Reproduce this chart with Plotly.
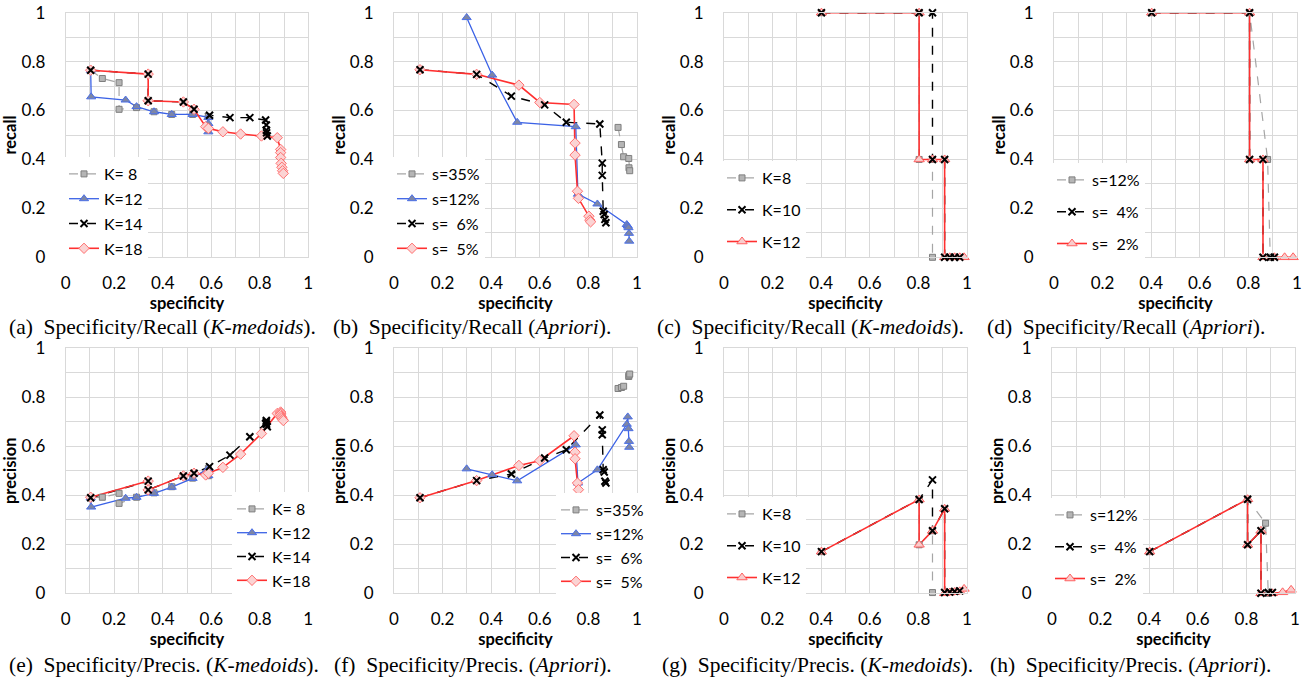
import plotly.graph_objects as go

W, H = 1312, 677

# ---------------- data ----------------
# (a)/(e) K-medoids sweep
km_k8_spec = [0.103, 0.151, 0.220, 0.220, 0.292, 0.364, 0.437, 0.523, 0.588, 0.588]
km_k8_recall = [0.765, 0.731, 0.714, 0.605, 0.612, 0.595, 0.584, 0.584, 0.575, 0.530]
km_k8_prec = [0.390, 0.392, 0.408, 0.367, 0.392, 0.410, 0.435, 0.470, 0.510, 0.480]

km_k12_spec = [0.103, 0.105, 0.247, 0.292, 0.364, 0.437, 0.523, 0.588, 0.588, 0.588]
km_k12_recall = [0.765, 0.656, 0.643, 0.616, 0.595, 0.584, 0.584, 0.572, 0.547, 0.513]
km_k12_prec = [0.390, 0.352, 0.388, 0.392, 0.408, 0.433, 0.469, 0.510, 0.495, 0.480]

km_k14_spec = [0.103, 0.340, 0.340, 0.485, 0.529, 0.593, 0.677, 0.759, 0.824, 0.827, 0.827, 0.828, 0.831]
km_k14_recall = [0.765, 0.749, 0.640, 0.635, 0.605, 0.581, 0.571, 0.571, 0.561, 0.541, 0.520, 0.509, 0.496]
km_k14_prec = [0.390, 0.458, 0.422, 0.479, 0.490, 0.517, 0.564, 0.639, 0.693, 0.700, 0.705, 0.690, 0.680]

km_k18_spec = [0.103, 0.340, 0.340, 0.485, 0.529, 0.577, 0.588, 0.648, 0.721, 0.807, 0.872,
               0.886, 0.886, 0.886, 0.888, 0.891, 0.894, 0.897]
km_k18_recall = [0.765, 0.749, 0.640, 0.635, 0.605, 0.534, 0.527, 0.513, 0.504, 0.496, 0.489,
                 0.441, 0.428, 0.408, 0.384, 0.368, 0.354, 0.343]
km_k18_prec = [0.392, 0.458, 0.422, 0.479, 0.490, 0.483, 0.490, 0.514, 0.568, 0.652, 0.734,
               0.740, 0.735, 0.729, 0.722, 0.716, 0.710, 0.705]

# (b)/(f) Apriori sweep
ap_s35_spec = [0.922, 0.936, 0.945, 0.966, 0.967, 0.970]
ap_s35_recall = [0.531, 0.461, 0.411, 0.404, 0.366, 0.354]
ap_s35_prec = [0.836, 0.840, 0.845, 0.885, 0.890, 0.895]

ap_s12_spec = [0.299, 0.404, 0.507, 0.748, 0.757, 0.837, 0.958, 0.962, 0.965, 0.967, 0.968]
ap_s12_recall = [0.980, 0.745, 0.552, 0.534, 0.258, 0.218, 0.134, 0.128, 0.121, 0.098, 0.066]
ap_s12_prec = [0.508, 0.484, 0.459, 0.606, 0.450, 0.504, 0.690, 0.720, 0.672, 0.620, 0.596]

ap_s6_spec = [0.107, 0.340, 0.483, 0.620, 0.709, 0.847, 0.857, 0.857, 0.861, 0.865, 0.868, 0.872]
ap_s6_recall = [0.767, 0.748, 0.659, 0.623, 0.552, 0.545, 0.385, 0.335, 0.188, 0.175, 0.155, 0.141]
ap_s6_prec = [0.390, 0.460, 0.487, 0.552, 0.586, 0.728, 0.667, 0.647, 0.504, 0.495, 0.457, 0.450]

ap_s5_spec = [0.107, 0.340, 0.514, 0.600, 0.741, 0.745, 0.745, 0.755, 0.759, 0.802, 0.806, 0.809]
ap_s5_recall = [0.767, 0.748, 0.704, 0.633, 0.625, 0.467, 0.418, 0.270, 0.241, 0.168, 0.152, 0.145]
ap_s5_prec = [0.390, 0.460, 0.522, 0.541, 0.643, 0.576, 0.549, 0.450, 0.423, None, None, None]

# (c)/(g) K-medoids
kc_k8_spec = [0.401, 0.803, 0.803, 0.858, 0.858]
kc_k8_recall = [1.0, 1.0, 0.4, 0.4, 0.0]
kc_k8_prec = [0.170, 0.383, 0.198, 0.255, 0.003]

kc_k10_spec = [0.401, 0.803, 0.858, 0.858, 0.908, 0.908, 0.929, 0.949, 0.970]
kc_k10_recall = [1.0, 1.0, 1.0, 0.4, 0.4, 0.0, 0.0, 0.0, 0.0]
kc_k10_prec = [0.170, 0.383, 0.463, 0.255, 0.345, 0.003, 0.005, 0.008, 0.010]

kc_k12_spec = [0.401, 0.803, 0.803, 0.858, 0.908, 0.908, 0.929, 0.949, 0.970, 0.988]
kc_k12_recall = [1.0, 1.0, 0.4, 0.4, 0.4, 0.0, 0.0, 0.0, 0.0, 0.0]
kc_k12_prec = [0.170, 0.383, 0.198, 0.255, 0.345, 0.000, 0.003, 0.005, 0.008, 0.018]

# (d)/(h) Apriori
ad_s12_spec = [0.402, 0.805, 0.879, 0.890]
ad_s12_recall = [1.0, 1.0, 0.4, 0.0]
ad_s12_prec = [0.170, 0.384, 0.286, 0.000]

ad_s4_spec = [0.402, 0.805, 0.805, 0.860, 0.860, 0.890, 0.907]
ad_s4_recall = [1.0, 1.0, 0.4, 0.4, 0.0, 0.0, 0.0]
ad_s4_prec = [0.170, 0.384, 0.198, 0.255, 0.000, 0.003, 0.003]

ad_s2_spec = [0.402, 0.805, 0.805, 0.860, 0.860, 0.907, 0.949, 0.984]
ad_s2_recall = [1.0, 1.0, 0.4, 0.4, 0.0, 0.0, 0.0, 0.0]
ad_s2_prec = [0.170, 0.384, 0.198, 0.255, 0.000, 0.000, 0.004, 0.014]

# labels
km_names_a = ["K= 8", "K=12", "K=14", "K=18"]
ap_names_b = ["s=35%", "s=12%", "s=  6%", "s=  5%"]
km_names_c = ["K=8", "K=10", "K=12"]
ap_names_d = ["s=12%", "s=  4%", "s=  2%"]
captions = [
    "(a)  Specificity/Recall (<i>K-medoids</i>).",
    "(b)  Specificity/Recall (<i>Apriori</i>).",
    "(c)  Specificity/Recall (<i>K-medoids</i>).",
    "(d)  Specificity/Recall (<i>Apriori</i>).",
    "(e)  Specificity/Precis. (<i>K-medoids</i>).",
    "(f)  Specificity/Precis. (<i>Apriori</i>).",
    "(g)  Specificity/Precis. (<i>K-medoids</i>).",
    "(h)  Specificity/Precis. (<i>Apriori</i>).",
]

# ---------------- styles ----------------
FONT = "Lato, 'Open Sans', sans-serif"
STY = {
    "gray": dict(line=dict(color="#a6a6a6", width=1.2, dash="dash"),
                 marker=dict(symbol="square", size=6, color="#b5b5b5",
                             line=dict(color="#7f7f7f", width=1))),
    "blue": dict(line=dict(color="#3b62e6", width=1.3),
                 marker=dict(symbol="triangle-up", size=8, color="#7d86a6",
                             line=dict(color="#4a6fe8", width=1))),
    "black": dict(line=dict(color="#000000", width=1.4, dash="dash"),
                  marker=dict(symbol="x-thin", size=7, color="#000000",
                              line=dict(color="#000000", width=2))),
    "red_d": dict(line=dict(color="#ff3030", width=1.6),
                  marker=dict(symbol="diamond", size=8, color="#fbd3d3",
                              line=dict(color="#ff7070", width=1))),
    "red_t": dict(line=dict(color="#ff3030", width=1.6),
                  marker=dict(symbol="triangle-up", size=9, color="#f9cccc",
                              line=dict(color="#ff6060", width=1))),
}

# panel definitions: plot-area pixel boxes (left, right, top, bottom)
panels = [
    dict(box=(65.7, 308.3, 12.7, 257.3), ytitle="recall", leg=(64, 157), gap=1,
         series=[("gray", km_names_a[0], km_k8_spec, km_k8_recall),
                 ("blue", km_names_a[1], km_k12_spec, km_k12_recall),
                 ("black", km_names_a[2], km_k14_spec, km_k14_recall),
                 ("red_d", km_names_a[3], km_k18_spec, km_k18_recall)],
         cap=(7, 327)),
    dict(box=(394, 637, 12.7, 257.3), ytitle="recall", leg=(392, 157), gap=1,
         series=[("gray", ap_names_b[0], ap_s35_spec, ap_s35_recall),
                 ("blue", ap_names_b[1], ap_s12_spec, ap_s12_recall),
                 ("black", ap_names_b[2], ap_s6_spec, ap_s6_recall),
                 ("red_d", ap_names_b[3], ap_s5_spec, ap_s5_recall)],
         cap=(331, 327)),
    dict(box=(724, 967, 12.7, 257.3), ytitle="recall", leg=(722, 161), gap=8,
         series=[("gray", km_names_c[0], kc_k8_spec, kc_k8_recall),
                 ("black", km_names_c[1], kc_k10_spec, kc_k10_recall),
                 ("red_t", km_names_c[2], kc_k12_spec, kc_k12_recall)],
         cap=(655, 327)),
    dict(box=(1054, 1297, 12.7, 257.3), ytitle="recall", leg=(1052, 163), gap=8,
         series=[("gray", ap_names_d[0], ad_s12_spec, ad_s12_recall),
                 ("black", ap_names_d[1], ad_s4_spec, ad_s4_recall),
                 ("red_t", ap_names_d[2], ad_s2_spec, ad_s2_recall)],
         cap=(985, 327)),
    dict(box=(65.7, 308.3, 348.3, 593.3), ytitle="precision", leg=(232, 492), gap=0,
         series=[("gray", km_names_a[0], km_k8_spec, km_k8_prec),
                 ("blue", km_names_a[1], km_k12_spec, km_k12_prec),
                 ("black", km_names_a[2], km_k14_spec, km_k14_prec),
                 ("red_d", km_names_a[3], km_k18_spec, km_k18_prec)],
         cap=(7, 665)),
    dict(box=(394, 637, 348.3, 593.3), ytitle="precision", leg=(556, 493), gap=0,
         series=[("gray", ap_names_b[0], ap_s35_spec, ap_s35_prec),
                 ("blue", ap_names_b[1], ap_s12_spec, ap_s12_prec),
                 ("black", ap_names_b[2], ap_s6_spec, ap_s6_prec),
                 ("red_d", ap_names_b[3], ap_s5_spec, ap_s5_prec)],
         cap=(332, 665)),
    dict(box=(724, 967, 348.3, 593.3), ytitle="precision", leg=(722, 497), gap=8,
         series=[("gray", km_names_c[0], kc_k8_spec, kc_k8_prec),
                 ("black", km_names_c[1], kc_k10_spec, kc_k10_prec),
                 ("red_t", km_names_c[2], kc_k12_spec, kc_k12_prec)],
         cap=(660, 665)),
    dict(box=(1052, 1295, 348.3, 593.3), ytitle="precision", leg=(1050, 498), gap=8,
         series=[("gray", ap_names_d[0], ad_s12_spec, ad_s12_prec),
                 ("black", ap_names_d[1], ad_s4_spec, ad_s4_prec),
                 ("red_t", ap_names_d[2], ad_s2_spec, ad_s2_prec)],
         cap=(988, 665)),
]

fig = go.Figure()
layout = dict(width=W, height=H, margin=dict(l=0, r=0, t=0, b=0, autoexpand=False),
              paper_bgcolor="white", plot_bgcolor="white",
              font=dict(family=FONT, color="black"), annotations=[])

legend_traces = []
for i, p in enumerate(panels, start=1):
    xa = "x" if i == 1 else f"x{i}"
    ya = "y" if i == 1 else f"y{i}"
    legname = "legend" if i == 1 else f"legend{i}"
    l, r, t, b = p["box"]
    axis_common = dict(range=[0, 1], dtick=0.2, tick0=0, showgrid=True, automargin=False,
                       gridcolor="#d9d9d9", gridwidth=1, zeroline=False,
                       showline=True, linecolor="#d9d9d9", mirror=True,
                       ticks="outside", tickcolor="rgba(0,0,0,0)",
                       tickfont=dict(size=17, family=FONT, color="black"),
                       minor=dict(dtick=0.1, showgrid=True, gridcolor="#d9d9d9", gridwidth=1),
                       fixedrange=True)
    layout["xaxis" if i == 1 else f"xaxis{i}"] = dict(
        axis_common, domain=[l / W, r / W], anchor=ya, ticklen=10,
        title=dict(text="<b>specificity</b>", font=dict(size=16.5, family=FONT), standoff=0))
    layout["yaxis" if i == 1 else f"yaxis{i}"] = dict(
        axis_common, domain=[1 - b / H, 1 - t / H], anchor=xa, ticklen=16,
        title=dict(text=f"<b>{p['ytitle']}</b>", font=dict(size=16.5, family=FONT), standoff=0))
    lx, ly = p["leg"]
    layout[legname] = dict(x=lx / W, y=1 - ly / H, xanchor="left", yanchor="top",
                           bgcolor="white", borderwidth=0, itemwidth=30,
                           traceorder="grouped", tracegroupgap=p["gap"],
                           font=dict(size=16, family=FONT, color="black"),
                           itemclick=False, itemdoubleclick=False)
    # lines first
    for key, name, xs, ys in p["series"]:
        s = STY[key]
        fig.add_trace(go.Scatter(x=xs, y=ys, mode="lines", line=s["line"], xaxis=xa, yaxis=ya,
                                 showlegend=False, hoverinfo="skip", cliponaxis=False))
    # then markers (black crosses on top)
    order = sorted(p["series"], key=lambda q: 1 if q[0] == "black" else 0)
    for key, name, xs, ys in order:
        s = STY[key]
        fig.add_trace(go.Scatter(x=xs, y=ys, mode="markers", marker=s["marker"], xaxis=xa, yaxis=ya,
                                 showlegend=False, name=name, cliponaxis=False))
    for j, (key, name, xs, ys) in enumerate(p["series"]):
        s = STY[key]
        legend_traces.append(go.Scatter(x=[None], y=[None], mode="lines+markers", name=name,
                                        line=s["line"], marker=s["marker"], xaxis=xa, yaxis=ya,
                                        legend=legname, legendgroup=f"p{i}g{j}", showlegend=True))
    cx, cy = p["cap"]
    layout["annotations"].append(dict(text=captions[i - 1], x=cx / W, y=1 - cy / H,
                                      xref="paper", yref="paper", xanchor="left", yanchor="middle",
                                      showarrow=False,
                                      font=dict(family="'Liberation Serif', 'Times New Roman', serif",
                                                size=21.5, color="black")))

for tr in legend_traces:
    fig.add_trace(tr)

fig.update_layout(**layout)
fig.write_html("out.html", config={"displayModeBar": False},
               post_script="document.body.style.margin='0px';document.body.style.overflow='hidden';")
